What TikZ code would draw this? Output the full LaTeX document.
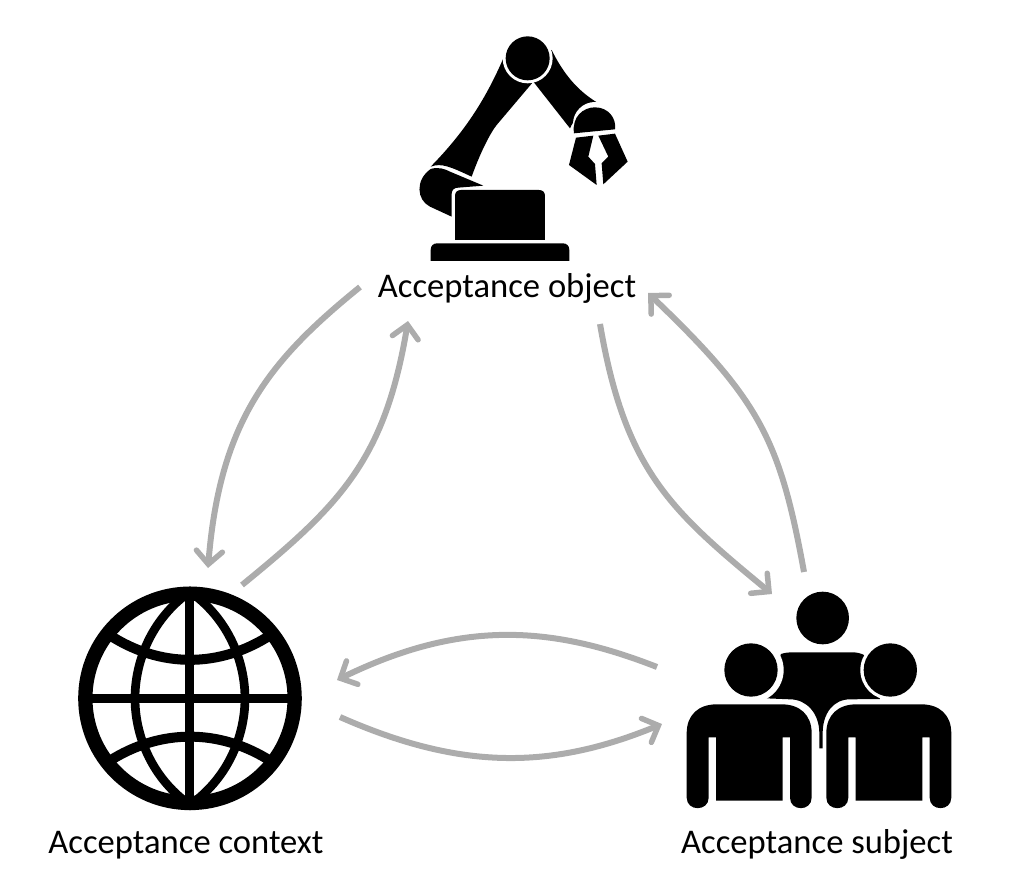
\documentclass[tikz,border=0pt]{standalone}
\usepackage{fontspec}
\setmainfont{Carlito}
\usetikzlibrary{arrows.meta}
\definecolor{flow}{RGB}{172,172,172}
\tikzset{
  lbl/.style={inner sep=0pt,anchor=base,font=\fontsize{34.6}{40}\selectfont,text=black},
  flowline/.style={draw=flow,line width=6pt,-{Straight Barb[length=13pt,width=26pt,line width=5.5pt,line cap=round,line join=miter]}},
  ink/.style={fill=black,draw=none},
  gap/.style={fill=white,draw=none},
  wire/.style={draw=black,fill=none}
}
\begin{document}
\begin{tikzpicture}[x=1pt,y=-1pt]
\useasboundingbox (0,0) rectangle (1024,886);
% robot
\begin{scope}[shift={(400,20)},x=0.3333pt,y=-0.3333pt]
\fill[ink] (310,115) .. controls (260,230) and (200,330) .. (92,440) .. controls (125,428) and (150,440) .. (215,470) .. controls (240,400) and (270,340) .. (290,315) -- (400,185) -- (510,325) .. controls (520,300) and (555,260) .. (592,248) .. controls (530,210) and (490,160) .. (455,90) -- cycle;
\fill[gap] (383,115) circle (75);
\fill[ink] (383,115) circle (66);
\fill[gap] (585,312) circle (66);
\fill[ink] (522,340) .. controls (515,290) and (550,262) .. (585,262) .. controls (625,262) and (650,295) .. (645,328) -- cycle;
\fill[gap] (505,345) -- (660,332) -- (660,345) -- (505,358) -- cycle;
\fill[ink] (528,353) -- (580,347) -- (565,410) -- (585,432) -- (590,495) -- (507,435) -- cycle;
\fill[ink] (595,347) -- (645,341) -- (683,425) -- (610,493) -- (605,430) -- (625,410) -- cycle;
\fill[ink] (92,447) .. controls (115,440) and (135,447) .. (150,455) -- (250,497) -- (175,503) .. controls (162,503) and (155,510) .. (155,522) -- (155,590) -- (90,560) .. controls (50,540) and (45,480) .. (92,447) -- cycle;
\fill[ink] (165,660) -- (165,528) .. controls (165,516) and (172,510) .. (184,510) -- (416,510) .. controls (428,510) and (435,516) .. (435,528) -- (435,660) -- cycle;
\fill[ink] (92,723) -- (92,690) .. controls (92,677) and (100,670) .. (112,670) -- (488,670) .. controls (500,670) and (508,677) .. (508,690) -- (508,723) -- cycle;
\end{scope}
% globe
\begin{scope}[shift={(70,580)},x=0.3333pt,y=-0.3333pt]
\draw[wire,line width=14.3pt] (360,355) circle (314);
\draw[wire,line width=9pt] (360,40) -- (360,670);
\draw[wire,line width=9pt] (60,355) -- (660,355);
\draw[wire,line width=8.7pt] (360,35) .. controls (240,120) and (195,250) .. (195,355) .. controls (195,460) and (240,590) .. (360,675) .. controls (480,590) and (525,460) .. (525,355) .. controls (525,250) and (480,120) .. (360,35) -- cycle;
\draw[wire,line width=10pt] (115,163) .. controls (270,265) and (450,265) .. (605,163);
\draw[wire,line width=10pt] (115,545) .. controls (270,445) and (450,445) .. (605,545);
\end{scope}
% people
\begin{scope}[shift={(670,580)},x=0.3333pt,y=-0.3333pt]
\fill[ink] (333,222) .. controls (345,218) and (355,217) .. (370,217) -- (545,217) .. controls (560,217) and (570,219) .. (582,225) -- (630,357) -- (540,358) .. controls (490,358) and (458,400) .. (458,460) -- (458,505) -- (448,505) -- (448,460) .. controls (448,400) and (410,358) .. (360,358) -- (288,355) -- cycle;
\fill[gap] (243,270) circle (98);
\fill[gap] (661,270) circle (90);
\fill[ink] (458,114) circle (79);
\fill[ink] (243,270) circle (80);
\fill[ink] (661,270) circle (80);
\foreach \dx in {0,419}{
\begin{scope}[xshift=\dx*0.3333pt]
\fill[ink] (50,653) -- (50,460) .. controls (50,405) and (85,373) .. (140,373) -- (335,373) .. controls (390,373) and (425,405) .. (425,460) -- (425,653) .. controls (425,695) and (360,695) .. (360,653) -- (360,472) -- (338,472) -- (338,662) -- (138,662) -- (138,472) -- (116,472) -- (116,653) .. controls (116,695) and (50,695) .. (50,653) -- cycle;
\end{scope}
}
\end{scope}
% labels
\node[lbl] (objlabel) at (507,297) {Acceptance object};
\node[lbl] (ctxlabel) at (186,853) {Acceptance context};
\node[lbl] (subjlabel) at (817,853) {Acceptance subject};
% connector ends
\coordinate (a1) at (360,287); \coordinate (a2) at (208,568);
\coordinate (b1) at (242,585); \coordinate (b2) at (408,321);
\coordinate (c1) at (600,324); \coordinate (c2) at (772,594);
\coordinate (d1) at (804,572); \coordinate (d2) at (648,293);
\coordinate (e1) at (657,667); \coordinate (e2) at (337,680);
\coordinate (f1) at (340,717); \coordinate (f2) at (662,724);
\path[flowline] (a1) .. controls (270,360) and (220,420) .. (a2);
\path[flowline] (b1) .. controls (340,505) and (385,460) .. (b2);
\path[flowline] (c1) .. controls (625,470) and (670,510) .. (c2);
\path[flowline] (d1) .. controls (780,440) and (760,400) .. (d2);
\path[flowline] (e1) .. controls (550,625) and (460,620) .. (e2);
\path[flowline] (f1) .. controls (460,770) and (550,770) .. (f2);
\end{tikzpicture}
\end{document}
